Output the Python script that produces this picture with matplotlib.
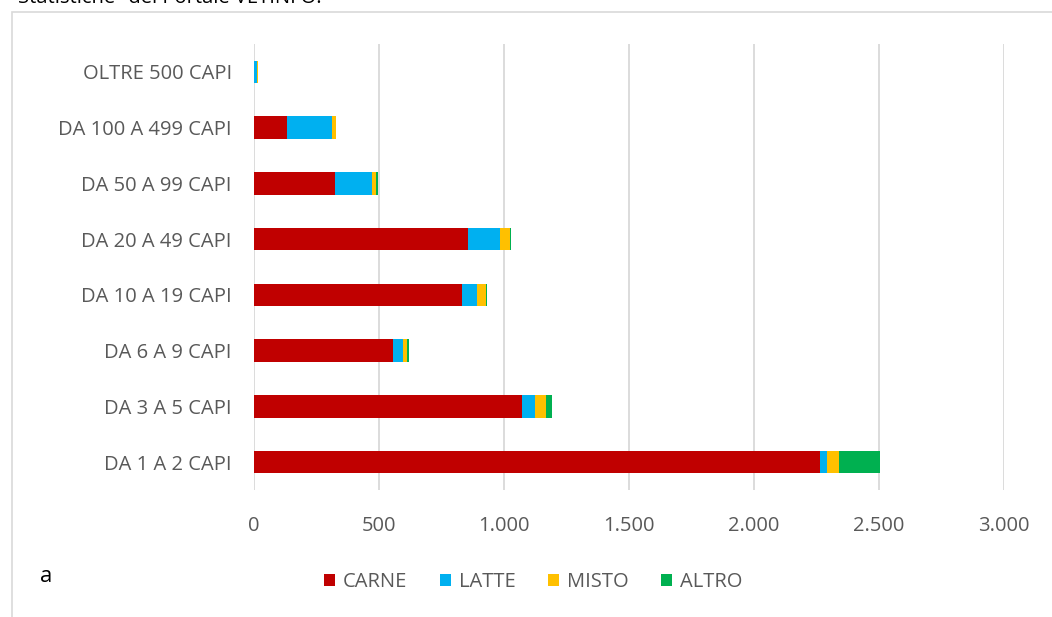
import numpy as np
import matplotlib.pyplot as plt
from matplotlib.patches import Rectangle
from matplotlib.ticker import FuncFormatter

# categories bottom to top
categorie = ['DA 1 A 2 CAPI', 'DA 3 A 5 CAPI', 'DA 6 A 9 CAPI', 'DA 10 A 19 CAPI',
             'DA 20 A 49 CAPI', 'DA 50 A 99 CAPI', 'DA 100 A 499 CAPI', 'OLTRE 500 CAPI']
carne = [2265, 1073, 555, 831, 854, 322, 130, 0]
latte = [25, 49, 42, 61, 129, 151, 180, 12]
misto = [50, 46, 16, 35, 40, 15, 18, 5]
altro = [165, 22, 7, 5, 5, 6, 1, 0]

serie = ['CARNE', 'LATTE', 'MISTO', 'ALTRO']
colori = ['#C00000', '#00B0F0', '#FFC000', '#00B050']
xticks = [0, 500, 1000, 1500, 2000, 2500, 3000]

plt.rcParams['font.family'] = ['Open Sans', 'DejaVu Sans']

fig = plt.figure(figsize=(10.52, 6.17), dpi=100)
ax = fig.add_axes([254 / 1052, 1 - 490 / 617, 750 / 1052, 446 / 617])

# outer chart border
fig.patches.append(Rectangle((12 / 1052, -0.1), 1.2, 1 - 12 / 617 + 0.1,
                             transform=fig.transFigure, fill=False,
                             edgecolor='#d9d9d9', linewidth=1.2))

y = np.arange(len(categorie))
left = np.zeros(len(categorie))
for nome, valori, col in zip(serie, [carne, latte, misto, altro], colori):
    ax.barh(y, valori, left=left, height=0.4, color=col, label=nome)
    left += np.array(valori)

ax.set_xlim(0, 3000)
ax.set_ylim(-0.5, len(categorie) - 0.5)
ax.set_yticks(y)
ax.set_yticklabels(categorie)
ax.set_xticks(xticks)
ax.xaxis.set_major_formatter(FuncFormatter(lambda v, p: f'{int(v):,}'.replace(',', '.')))
ax.tick_params(axis='both', length=0, colors='#595959', labelsize=14.5)
ax.tick_params(axis='y', pad=16)
ax.tick_params(axis='x', pad=19)
ax.grid(axis='x', color='#d9d9d9', linewidth=1.3)
ax.set_axisbelow(True)
for s in ax.spines.values():
    s.set_visible(False)

leg = fig.legend(loc='center', bbox_to_anchor=(533 / 1052, 1 - 582 / 617), ncol=4,
                 frameon=False, fontsize=14.5, handlelength=0.55, handleheight=0.55,
                 handletextpad=0.4, columnspacing=1.6)
for t in leg.get_texts():
    t.set_color('#595959')

fig.text(40 / 1052, 1 - 577 / 617, 'a', fontsize=16, color='black', va='center')
fig.text(18 / 1052, 1 + 2 / 617, 'Statistiche" del Portale VETINFO.', fontsize=14.5,
         color='black', va='center')

fig.savefig('out.png', dpi=100)
